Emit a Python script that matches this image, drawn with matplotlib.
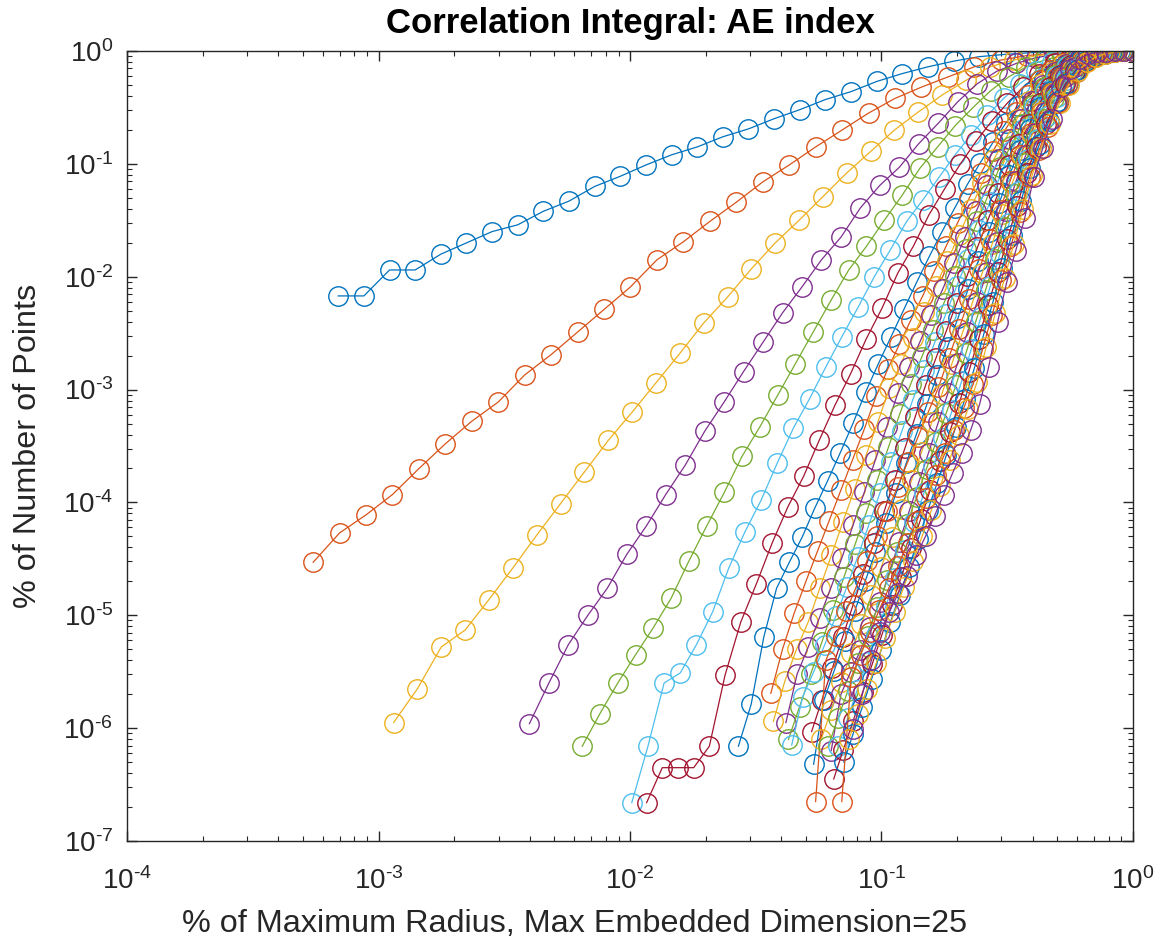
import numpy as np
import matplotlib.pyplot as plt
from matplotlib.ticker import LogLocator, NullFormatter, FuncFormatter

plt.rcParams['font.family'] = ['Liberation Sans', 'DejaVu Sans']
plt.rcParams['mathtext.fontset'] = 'custom'
plt.rcParams['mathtext.rm'] = 'Liberation Sans'
plt.rcParams['mathtext.it'] = 'Liberation Sans:italic'
plt.rcParams['mathtext.bf'] = 'Liberation Sans:bold'

# log10 of smallest radius (fraction of max radius) for each embedding dimension
log_r_min = [-3.16, -3.26, -2.94, -2.40, -2.19, -1.993, -1.934, -1.569, -1.44, -1.43,
             -1.38, -1.37, -1.357, -1.278, -1.27, -1.262, -1.24, -1.20, -1.212, -1.172,
             -1.19, -1.15, -1.158, -1.13, -1.112]

# log10 of correlation integral, 32 radii per dimension
c_dim01 = [-2.17, -2.17, -1.94, -1.94, -1.80, -1.70, -1.60, -1.54, -1.42, -1.33, -1.20, -1.11, -1.01, -0.92, -0.85, -0.76,
           -0.69, -0.60, -0.52, -0.43, -0.36, -0.27, -0.20, -0.14, -0.09, -0.05, -0.03, -0.015, -0.007, -0.003, -0.001, 0.0]
c_dim02 = [-4.53, -4.27, -4.11, -3.93, -3.70, -3.48, -3.28, -3.11, -2.87, -2.69, -2.49, -2.29, -2.09, -1.85, -1.69, -1.51,
           -1.34, -1.16, -1.01, -0.85, -0.70, -0.55, -0.42, -0.32, -0.23, -0.14, -0.08, -0.04, -0.02, -0.01, -0.004, 0.0]
c_dim03 = [-5.95, -5.65, -5.28, -5.13, -4.86, -4.58, -4.29, -4.01, -3.73, -3.45, -3.20, -2.94, -2.68, -2.41, -2.18, -1.93,
           -1.70, -1.50, -1.29, -1.08, -0.89, -0.70, -0.54, -0.39, -0.26, -0.14, -0.08, -0.04, -0.02, -0.008, -0.003, 0.0]
c_dim04 = [-5.96, -5.60, -5.26, -5.00, -4.76, -4.46, -4.21, -3.93, -3.67, -3.37, -3.11, -2.84, -2.58, -2.32, -2.09, -1.85,
           -1.65, -1.39, -1.19, -1.03, -0.82, -0.64, -0.45, -0.29, -0.18, -0.11, -0.06, -0.03, -0.015, -0.006, -0.002, 0.0]
c_dim05 = [-6.16, -5.87, -5.60, -5.35, -5.11, -4.85, -4.52, -4.21, -3.91, -3.59, -3.33, -3.05, -2.77, -2.49, -2.21, -1.94,
           -1.73, -1.50, -1.28, -1.04, -0.85, -0.66, -0.50, -0.35, -0.23, -0.14, -0.08, -0.04, -0.02, -0.008, -0.003, 0.0]
c_dim06 = [-6.66, -6.16, -5.60, -5.51, -5.26, -4.97, -4.58, -4.26, -3.98, -3.65, -3.34, -3.08, -2.80, -2.53, -2.27, -2.00,
           -1.76, -1.51, -1.32, -1.12, -0.92, -0.74, -0.57, -0.42, -0.29, -0.18, -0.10, -0.05, -0.025, -0.01, -0.003, 0.0]
c_dim07 = [-6.66, -6.35, -6.35, -6.35, -6.16, -5.53, -5.06, -4.72, -4.36, -4.04, -3.77, -3.45, -3.14, -2.86, -2.55, -2.28,
           -1.97, -1.73, -1.45, -1.22, -1.00, -0.80, -0.62, -0.46, -0.32, -0.20, -0.11, -0.06, -0.03, -0.012, -0.004, 0.0]
c_dim08 = [-6.16, -5.79, -5.19, -4.76, -4.53, -4.31, -4.05, -3.81, -3.56, -3.30, -3.02, -2.77, -2.53, -2.29, -2.05, -1.82,
           -1.60, -1.39, -1.18, -0.99, -0.81, -0.64, -0.49, -0.36, -0.25, -0.16, -0.10, -0.055, -0.027, -0.011, -0.004, 0.0]
c_dim09 = [-5.69, -5.30, -4.98, -4.70, -4.43, -4.16, -3.89, -3.62, -3.35, -3.06, -2.82, -2.60, -2.38, -2.17, -1.95, -1.73,
           -1.52, -1.30, -1.08, -0.89, -0.71, -0.54, -0.39, -0.26, -0.17, -0.11, -0.06, -0.032, -0.016, -0.007, -0.002, 0.0]
c_dim10 = [-5.94, -5.58, -5.30, -5.06, -4.76, -4.47, -4.17, -3.88, -3.58, -3.29, -2.99, -2.77, -2.54, -2.31, -2.08, -1.86,
           -1.63, -1.40, -1.17, -0.96, -0.78, -0.60, -0.44, -0.29, -0.19, -0.115, -0.065, -0.035, -0.018, -0.008, -0.003, 0.0]
c_dim11 = [-5.95, -5.52, -5.28, -5.02, -4.76, -4.49, -4.20, -3.91, -3.62, -3.33, -3.03, -2.80, -2.57, -2.34, -2.11, -1.88,
           -1.65, -1.42, -1.19, -0.96, -0.78, -0.60, -0.44, -0.30, -0.19, -0.115, -0.065, -0.035, -0.019, -0.008, -0.003, 0.0]
c_dim12 = [-6.10, -5.81, -5.52, -5.24, -4.95, -4.66, -4.37, -4.09, -3.80, -3.51, -3.22, -2.95, -2.71, -2.47, -2.23, -1.99,
           -1.75, -1.51, -1.27, -1.03, -0.84, -0.65, -0.48, -0.32, -0.21, -0.13, -0.07, -0.038, -0.02, -0.009, -0.003, 0.0]
c_dim13 = [-6.15, -5.72, -5.50, -5.26, -5.01, -4.75, -4.48, -4.20, -3.92, -3.64, -3.37, -3.09, -2.83, -2.58, -2.33, -2.08,
           -1.84, -1.59, -1.34, -1.09, -0.88, -0.69, -0.50, -0.35, -0.22, -0.13, -0.075, -0.038, -0.02, -0.009, -0.003, 0.0]
c_dim14 = [-6.03, -5.75, -5.47, -5.19, -4.91, -4.63, -4.36, -4.08, -3.80, -3.52, -3.24, -2.96, -2.72, -2.48, -2.23, -1.99,
           -1.74, -1.50, -1.26, -1.01, -0.82, -0.65, -0.46, -0.32, -0.21, -0.12, -0.07, -0.036, -0.019, -0.008, -0.003, 0.0]
c_dim15 = [-6.32, -5.75, -5.49, -5.23, -4.96, -4.70, -4.44, -4.18, -3.92, -3.65, -3.39, -3.13, -2.87, -2.62, -2.37, -2.11,
           -1.86, -1.60, -1.35, -1.10, -0.88, -0.69, -0.50, -0.35, -0.22, -0.14, -0.075, -0.038, -0.02, -0.009, -0.003, 0.0]
c_dim16 = [-6.65, -5.40, -5.18, -4.96, -4.74, -4.52, -4.30, -4.08, -3.86, -3.64, -3.42, -3.20, -2.98, -2.72, -2.46, -2.20,
           -1.93, -1.67, -1.41, -1.15, -0.92, -0.73, -0.54, -0.37, -0.23, -0.14, -0.08, -0.04, -0.02, -0.01, -0.003, 0.0]
c_dim17 = [-6.10, -5.84, -5.59, -5.33, -5.08, -4.82, -4.57, -4.31, -4.06, -3.80, -3.55, -3.29, -3.04, -2.77, -2.51, -2.24,
           -1.97, -1.71, -1.44, -1.17, -0.93, -0.74, -0.54, -0.37, -0.24, -0.145, -0.08, -0.04, -0.02, -0.01, -0.003, 0.0]
c_dim18 = [-6.20, -5.70, -5.50, -5.31, -5.10, -4.88, -4.61, -4.35, -4.08, -3.82, -3.56, -3.29, -3.03, -2.76, -2.49, -2.22,
           -1.96, -1.69, -1.42, -1.15, -0.92, -0.73, -0.54, -0.37, -0.23, -0.14, -0.08, -0.04, -0.02, -0.01, -0.003, 0.0]
c_dim19 = [-6.16, -5.91, -5.67, -5.42, -5.18, -4.93, -4.69, -4.44, -4.19, -3.95, -3.70, -3.46, -3.21, -2.96, -2.68, -2.40,
           -2.12, -1.84, -1.56, -1.27, -0.99, -0.79, -0.60, -0.42, -0.28, -0.165, -0.09, -0.048, -0.024, -0.011, -0.003, 0.0]
c_dim20 = [-6.16, -5.91, -5.66, -5.41, -5.17, -4.92, -4.67, -4.42, -4.17, -3.92, -3.68, -3.43, -3.18, -2.92, -2.64, -2.36,
           -2.08, -1.80, -1.52, -1.24, -0.96, -0.78, -0.58, -0.41, -0.26, -0.16, -0.085, -0.045, -0.022, -0.01, -0.003, 0.0]
c_dim21 = [-6.45, -6.19, -5.94, -5.68, -5.43, -5.17, -4.91, -4.66, -4.40, -4.15, -3.89, -3.63, -3.38, -3.12, -2.84, -2.55,
           -2.25, -1.96, -1.67, -1.37, -1.08, -0.85, -0.65, -0.46, -0.29, -0.175, -0.10, -0.052, -0.025, -0.011, -0.004, 0.0]
c_dim22 = [-6.30, -6.05, -5.81, -5.56, -5.31, -5.06, -4.82, -4.57, -4.32, -4.07, -3.83, -3.58, -3.33, -3.08, -2.81, -2.51,
           -2.22, -1.92, -1.63, -1.33, -1.04, -0.82, -0.62, -0.44, -0.28, -0.165, -0.09, -0.048, -0.024, -0.011, -0.003, 0.0]
c_dim23 = [-6.65, -5.55, -5.35, -5.15, -4.95, -4.76, -4.56, -4.36, -4.16, -3.96, -3.76, -3.56, -3.36, -3.16, -2.95, -2.64,
           -2.34, -2.03, -1.73, -1.43, -1.12, -0.88, -0.67, -0.46, -0.30, -0.19, -0.10, -0.052, -0.025, -0.011, -0.003, 0.0]
c_dim24 = [-6.10, -5.87, -5.65, -5.42, -5.20, -4.97, -4.75, -4.52, -4.30, -4.07, -3.85, -3.62, -3.40, -3.17, -2.93, -2.62,
           -2.32, -2.01, -1.71, -1.40, -1.10, -0.86, -0.65, -0.46, -0.30, -0.18, -0.10, -0.05, -0.024, -0.011, -0.003, 0.0]
c_dim25 = [-6.01, -5.70, -5.40, -5.15, -4.97, -4.80, -4.65, -4.47, -4.30, -4.12, -3.93, -3.74, -3.56, -3.36, -3.13, -2.80,
           -2.40, -2.05, -1.77, -1.48, -1.12, -0.86, -0.60, -0.32, -0.16, -0.07, -0.03, -0.012, -0.005, -0.002, -0.001, 0.0]

curves = [c_dim01, c_dim02, c_dim03, c_dim04, c_dim05, c_dim06, c_dim07, c_dim08, c_dim09, c_dim10,
          c_dim11, c_dim12, c_dim13, c_dim14, c_dim15, c_dim16, c_dim17, c_dim18, c_dim19, c_dim20,
          c_dim21, c_dim22, c_dim23, c_dim24, c_dim25]

# matlab default line colors
colors = ["#0072BD", "#D95319", "#EDB120", "#7E2F8E", "#77AC30", "#4DBEEE", "#A2142F"]
axis_gray = "#262626"


def pow10_label(v, pos):
    # matlab style 10^-n with a short hyphen
    e = int(round(np.log10(v)))
    sign = "\u2010" if e < 0 else ""
    return "10$^{%s%d}$" % (sign, abs(e))


fig = plt.figure(figsize=(11.58, 9.5), dpi=100)
ax = fig.add_axes([0.1097, 0.1147, 0.8687, 0.8316])

for i, logc in enumerate(curves):
    r = np.logspace(log_r_min[i], 0, len(logc))
    c = 10.0 ** np.array(logc)
    ax.plot(r, c, "-o", color=colors[i % len(colors)], lw=0.9,
            markersize=14, markerfacecolor="none", markeredgewidth=1.0)

ax.set_xscale("log")
ax.set_yscale("log")
ax.set_xlim(1e-4, 1e0)
ax.set_ylim(1e-7, 1e0)

ax.xaxis.set_major_locator(LogLocator(base=10, numticks=10))
ax.yaxis.set_major_locator(LogLocator(base=10, numticks=10))
ax.xaxis.set_minor_locator(LogLocator(base=10, subs=np.arange(2, 10), numticks=20))
ax.yaxis.set_minor_locator(LogLocator(base=10, subs=np.arange(2, 10), numticks=20))
ax.xaxis.set_major_formatter(FuncFormatter(pow10_label))
ax.yaxis.set_major_formatter(FuncFormatter(pow10_label))
ax.xaxis.set_minor_formatter(NullFormatter())
ax.yaxis.set_minor_formatter(NullFormatter())

ax.tick_params(which="both", direction="in", top=True, right=True, colors=axis_gray,
               labelsize=20)
ax.tick_params(which="major", length=7, width=1.0)
ax.tick_params(which="minor", length=3.5, width=0.8)
ax.tick_params(axis="x", pad=19)
ax.tick_params(axis="y", pad=10)
for sp in ax.spines.values():
    sp.set_color(axis_gray)
    sp.set_linewidth(1.0)

ax.set_title("Correlation Integral: AE index", fontsize=25, fontweight="bold",
             color="black", pad=13)
ax.set_xlabel("% of Maximum Radius, Max Embedded Dimension=25", fontsize=23.3,
              color=axis_gray)
ax.xaxis.set_label_coords(0.445, -0.086)
ax.set_ylabel("% of Number of Points", fontsize=23.3, color=axis_gray)
ax.yaxis.set_label_coords(-0.084, 0.5)

fig.savefig("out.png", dpi=100)
